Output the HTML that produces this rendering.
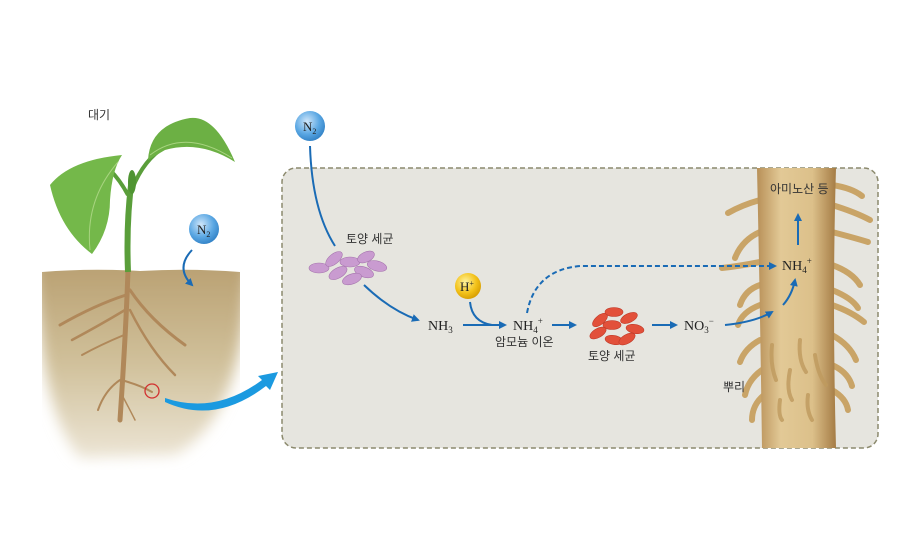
<!DOCTYPE html>
<html><head><meta charset="utf-8"><style>
body{margin:0;background:#fff}
svg{display:block}
text{font-family:"Liberation Serif","Noto Serif CJK SC",serif}
.k{font-family:"Liberation Sans","Noto Sans CJK KR",sans-serif;font-size:12px;fill:#333}
</style></head><body>
<svg width="900" height="540" viewBox="0 0 900 540" xmlns="http://www.w3.org/2000/svg">
<defs>
<radialGradient id="blue" cx="0.4" cy="0.35" r="0.7"><stop offset="0" stop-color="#cfe6fa"/><stop offset="0.6" stop-color="#5aa7e3"/><stop offset="1" stop-color="#2f7fc4"/></radialGradient>
<radialGradient id="yel" cx="0.4" cy="0.35" r="0.7"><stop offset="0" stop-color="#fff4a0"/><stop offset="0.6" stop-color="#f3c21a"/><stop offset="1" stop-color="#d49a00"/></radialGradient>
<linearGradient id="soil" x1="0" y1="0" x2="0" y2="1"><stop offset="0" stop-color="#b59a6a"/><stop offset="0.55" stop-color="#d0c09a"/><stop offset="1" stop-color="#ece5d5"/></linearGradient>
<linearGradient id="root" x1="0" y1="0" x2="1" y2="0"><stop offset="0" stop-color="#b89058"/><stop offset="0.3" stop-color="#e2c996"/><stop offset="0.7" stop-color="#dcc08a"/><stop offset="1" stop-color="#a57c45"/></linearGradient>
<filter id="blur" x="-20%" y="-20%" width="140%" height="140%"><feGaussianBlur stdDeviation="7"/></filter>
<clipPath id="soilclip"><path d="M42,272 Q90,268 140,271 Q190,268 240,272 L240,470 L42,470 Z"/></clipPath>
<marker id="ah" markerWidth="8" markerHeight="8" refX="6" refY="4" orient="auto" markerUnits="userSpaceOnUse"><path d="M0,0 L8,4 L0,8 Z" fill="#1a6bb5"/></marker>
</defs>
<text x="88" y="119" class="k">대기</text>
<!-- soil -->
<g clip-path="url(#soilclip)">
<path d="M30,245 L252,245 L246,300 Q238,420 175,455 L80,458 Q48,420 40,330 Z" fill="url(#soil)" filter="url(#blur)"/>
</g>
<!-- roots -->
<g stroke="#b0885a" fill="none" stroke-linecap="round">
<path d="M128,270 Q126,330 120,420" stroke-width="5"/>
<path d="M126,295 Q95,305 60,325" stroke-width="3"/>
<path d="M125,310 Q100,325 72,340" stroke-width="2.5"/>
<path d="M124,335 Q100,345 82,355" stroke-width="2"/>
<path d="M130,290 Q150,320 185,345" stroke-width="3"/>
<path d="M130,310 Q150,350 175,375" stroke-width="2.5"/>
<path d="M121,380 Q140,385 152,392" stroke-width="2"/>
<path d="M120,380 Q105,390 98,410" stroke-width="2"/>
<path d="M122,395 Q130,410 135,420" stroke-width="1.5"/>
</g>
<circle cx="152" cy="391" r="7" fill="none" stroke="#d23030" stroke-width="1.3"/>
<!-- stem & leaves -->
<path d="M128,272 Q126,220 132,178" stroke="#5a9e3a" stroke-width="6" fill="none"/>
<path d="M130,195 Q140,165 160,150" stroke="#5a9e3a" stroke-width="4" fill="none"/>
<path d="M128,195 Q120,180 110,170" stroke="#5a9e3a" stroke-width="4" fill="none"/>
<path d="M148,160 Q150,125 190,118 Q215,115 235,162 Q200,140 165,150 Z" fill="#6cb044"/>
<path d="M122,155 Q70,160 50,185 Q60,230 92,254 Q110,230 110,200 Q112,170 122,155 Z" fill="#74b84a"/>
<path d="M150,155 Q185,128 232,158 M118,162 Q85,200 90,250" stroke="#a8d480" stroke-width="1" fill="none"/>
<ellipse cx="132" cy="182" rx="4" ry="12" fill="#4f9432"/>
<!-- N2 left -->
<circle cx="204" cy="229" r="15" fill="url(#blue)"/>
<text x="197" y="234" font-size="13" fill="#222">N<tspan font-size="8" dy="3">2</tspan></text>
<path d="M192,250 Q175,268 192,285" stroke="#1a6bb5" stroke-width="2" fill="none" marker-end="url(#ah)"/>
<!-- big arrow -->
<path d="M165,398 Q215,415 262,380 L258,376 L278,372 L270,390 L266,386 Q215,425 165,402 Z" fill="#1b9ae0"/>
<!-- box -->
<rect x="282" y="168" width="596" height="280" rx="14" fill="#e6e5df" stroke="#8c8a6e" stroke-width="1.5" stroke-dasharray="5,3"/>
<!-- root hairs -->
<g stroke="#c9a467" stroke-width="6" stroke-linecap="round" fill="none">
<path d="M760,200 Q742,205 728,213"/>
<path d="M760,232 Q742,240 735,258"/>
<path d="M760,262 Q740,266 722,268"/>
<path d="M760,285 Q745,290 740,305"/>
<path d="M760,305 Q742,312 738,325"/>
<path d="M760,340 Q745,348 740,362"/>
<path d="M762,370 Q748,380 745,395"/>
<path d="M764,395 Q752,405 752,420"/>
<path d="M832,185 Q852,188 862,196"/>
<path d="M832,205 Q855,212 870,220"/>
<path d="M832,232 Q855,238 868,242"/>
<path d="M832,265 Q852,272 860,285"/>
<path d="M832,290 Q852,298 858,308"/>
<path d="M832,305 Q852,312 864,322"/>
<path d="M832,335 Q850,345 856,360"/>
<path d="M832,365 Q848,372 852,386"/>
<path d="M832,390 Q846,398 848,410"/>
</g>
<path d="M757,168 L836,168 Q832,300 836,448 L762,448 Q760,300 757,168 Z" fill="url(#root)"/>
<g stroke="#bf9a5e" stroke-width="4" stroke-linecap="round" fill="none" opacity="0.8">
<path d="M772,345 Q770,365 776,380"/><path d="M800,340 Q798,360 806,372"/>
<path d="M790,370 Q786,390 792,400"/><path d="M815,355 Q818,375 826,385"/>
<path d="M780,400 Q778,415 782,420"/><path d="M808,395 Q806,410 812,420"/>
</g>
<text x="770" y="193" class="k">아미노산 등</text>
<text x="723" y="391" class="k">뿌리</text>
<!-- N2 top -->
<circle cx="310" cy="126" r="15" fill="url(#blue)"/>
<text x="303" y="131" font-size="13" fill="#222">N<tspan font-size="8" dy="3">2</tspan></text>
<path d="M310,146 Q312,210 335,246" stroke="#1a6bb5" stroke-width="2" fill="none"/>
<text x="346" y="243" class="k">토양 세균</text>
<!-- purple bacteria -->
<g fill="#c99bd0" stroke="#a675ae" stroke-width="0.6">
<ellipse cx="319" cy="268" rx="10" ry="5"/><ellipse cx="334" cy="259" rx="10" ry="5" transform="rotate(-40 334 259)"/>
<ellipse cx="350" cy="262" rx="10" ry="5"/><ellipse cx="366" cy="257" rx="9" ry="5" transform="rotate(-25 366 257)"/>
<ellipse cx="377" cy="266" rx="10" ry="5" transform="rotate(15 377 266)"/><ellipse cx="338" cy="273" rx="10" ry="5" transform="rotate(-30 338 273)"/>
<ellipse cx="364" cy="272" rx="10" ry="5" transform="rotate(20 364 272)"/><ellipse cx="352" cy="279" rx="10" ry="5" transform="rotate(-20 352 279)"/>
</g>
<path d="M364,285 Q390,310 418,320" stroke="#1a6bb5" stroke-width="2" fill="none" marker-end="url(#ah)"/>
<text x="428" y="330" font-size="14" fill="#222">NH<tspan font-size="9" dy="3">3</tspan></text>
<path d="M463,325 L505,325" stroke="#1a6bb5" stroke-width="2" fill="none" marker-end="url(#ah)"/>
<circle cx="468" cy="286" r="13" fill="url(#yel)"/>
<text x="460" y="291" font-size="13" fill="#222">H<tspan font-size="8" dy="-5">+</tspan></text>
<path d="M470,302 Q472,322 492,325" stroke="#1a6bb5" stroke-width="2" fill="none"/>
<text x="513" y="330" font-size="14" fill="#222">NH<tspan font-size="9" dy="3">4</tspan><tspan font-size="9" dy="-9">+</tspan></text>
<text x="495" y="346" class="k">암모늄 이온</text>
<path d="M527,313 Q535,270 580,266 L775,266" stroke="#1a6bb5" stroke-width="2" stroke-dasharray="5,3" fill="none" marker-end="url(#ah)"/>
<path d="M552,325 L575,325" stroke="#1a6bb5" stroke-width="2" fill="none" marker-end="url(#ah)"/>
<!-- red bacteria -->
<g fill="#e2503a" stroke="#c03a28" stroke-width="0.6">
<ellipse cx="600" cy="320" rx="9" ry="4.5" transform="rotate(-40 600 320)"/><ellipse cx="614" cy="312" rx="9" ry="4.5"/>
<ellipse cx="629" cy="318" rx="9" ry="4.5" transform="rotate(-25 629 318)"/><ellipse cx="612" cy="325" rx="9" ry="4.5"/>
<ellipse cx="635" cy="329" rx="9" ry="4.5" transform="rotate(10 635 329)"/><ellipse cx="598" cy="333" rx="9" ry="4.5" transform="rotate(-30 598 333)"/>
<ellipse cx="614" cy="340" rx="9" ry="4.5" transform="rotate(10 614 340)"/><ellipse cx="627" cy="339" rx="9" ry="4.5" transform="rotate(-30 627 339)"/>
</g>
<text x="588" y="360" class="k">토양 세균</text>
<path d="M652,325 L676,325" stroke="#1a6bb5" stroke-width="2" fill="none" marker-end="url(#ah)"/>
<text x="684" y="330" font-size="14" fill="#222">NO<tspan font-size="9" dy="3">3</tspan><tspan font-size="9" dy="-9">−</tspan></text>
<path d="M725,325 Q755,322 772,312" stroke="#1a6bb5" stroke-width="2" fill="none" marker-end="url(#ah)"/>
<path d="M783,305 Q792,295 795,280" stroke="#1a6bb5" stroke-width="2" fill="none" marker-end="url(#ah)"/>
<text x="782" y="270" font-size="14" fill="#222">NH<tspan font-size="9" dy="3">4</tspan><tspan font-size="9" dy="-9">+</tspan></text>
<path d="M798,245 L798,215" stroke="#1a6bb5" stroke-width="2" fill="none" marker-end="url(#ah)"/>
</svg>
</body></html>
